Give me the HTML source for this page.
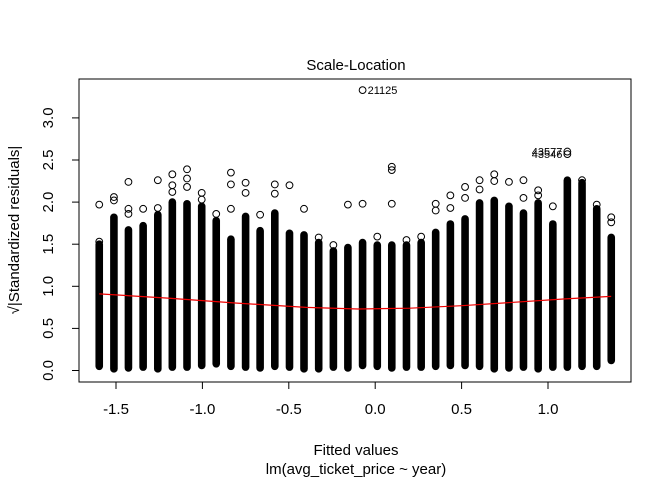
<!DOCTYPE html>
<html><head><meta charset="utf-8"><style>
html,body{margin:0;padding:0;background:#fff;}
svg{display:block;font-family:"Liberation Sans",Arial,sans-serif;}
</style></head><body>
<svg id="chart" width="672" height="480" viewBox="0 0 672 480" xmlns="http://www.w3.org/2000/svg">
<rect x="0" y="0" width="672" height="480" fill="#fff"/>
<g id="marks"></g>
<rect x="79" y="79" width="552" height="303" fill="none" stroke="#000" stroke-width="1"/>
<g id="axes"></g>
<text x="356" y="70" font-size="15" text-anchor="middle">Scale-Location</text>
<text x="356" y="455" font-size="15" text-anchor="middle">Fitted values</text>
<text x="356" y="474" font-size="15" text-anchor="middle">lm(avg_ticket_price ~ year)</text>
<text transform="translate(19,230) rotate(-90)" font-size="15" text-anchor="middle">√|Standardized residuals|</text>
</svg>
<script>
var columnFitted = [-1.597,-1.512,-1.428,-1.343,-1.258,-1.174,-1.089,-1.004,-0.920,-0.835,-0.750,-0.666,-0.581,-0.496,-0.412,-0.327,-0.242,-0.158,-0.073,0.012,0.096,0.181,0.266,0.350,0.435,0.520,0.604,0.689,0.774,0.858,0.943,1.028,1.112,1.197,1.282,1.366];
var denseTop = [1.50,1.82,1.67,1.72,1.85,2.00,1.98,1.95,1.78,1.56,1.83,1.66,1.87,1.63,1.61,1.52,1.42,1.46,1.52,1.49,1.49,1.49,1.52,1.64,1.74,1.80,1.99,2.02,1.95,1.87,1.99,1.74,2.26,2.23,1.92,1.58];
var denseBottom = [0.05,0.02,0.03,0.04,0.02,0.04,0.04,0.06,0.08,0.05,0.04,0.03,0.05,0.04,0.02,0.02,0.04,0.03,0.06,0.05,0.03,0.04,0.04,0.05,0.06,0.06,0.05,0.02,0.03,0.04,0.02,0.04,0.04,0.05,0.05,0.12];
var outlierIdx = [0,0,1,1,2,2,2,3,4,4,5,5,5,6,6,6,7,7,8,9,9,9,10,10,11,12,12,13,14,15,16,17,18,18,19,20,20,20,21,22,23,23,24,24,25,25,26,26,27,27,28,29,29,30,30,31,32,32,33,34,35,35];
var outlierVal = [1.97,1.53,2.06,2.02,2.24,1.92,1.86,1.92,2.26,1.93,2.33,2.20,2.12,2.39,2.28,2.18,2.11,2.03,1.86,2.35,2.21,1.92,2.23,2.11,1.85,2.21,2.10,2.20,1.92,1.58,1.49,1.97,1.98,3.33,1.59,2.42,2.38,1.98,1.55,1.59,1.98,1.90,2.08,1.93,2.18,2.05,2.26,2.15,2.33,2.25,2.24,2.26,2.05,2.14,2.08,1.95,2.60,2.57,2.26,1.97,1.82,1.76];
var smoothX = [-1.597,-1.2,-0.8,-0.4,-0.1,0.2,0.5,0.8,1.1,1.366];
var smoothY = [0.91,0.86,0.80,0.75,0.73,0.74,0.77,0.81,0.85,0.88];
var xTicks = [-1.5,-1.0,-0.5,0.0,0.5,1.0];
var xTickLabels = ["-1.5","-1.0","-0.5","0.0","0.5","1.0"];
var yTicks = [0,0.5,1,1.5,2,2.5,3];
var yTickLabels = ["0.0","0.5","1.0","1.5","2.0","2.5","3.0"];
var pointLabels = ["21125","43577","43546"];
var pointLabelX = [-0.073,1.112,1.112];
var pointLabelY = [3.33,2.60,2.57];

var NS="http://www.w3.org/2000/svg";
function sx(v){return 375.2+v*172.8;}
function sy(v){return 370.5-v*84.2;}
function mk(tag,attrs,parent){var e=document.createElementNS(NS,tag);for(var k in attrs)e.setAttribute(k,attrs[k]);parent.appendChild(e);return e;}
var marks=document.getElementById('marks'), axes=document.getElementById('axes');
for(var i=0;i<columnFitted.length;i++){
  var x=sx(columnFitted[i]), t=sy(denseTop[i]), b=sy(denseBottom[i]);
  var r=mk('rect',{x:x-3.8,y:t-3.8,width:7.6,height:b-t+7.6,rx:3.8,fill:'#000'},marks);
  
  
}
for(var j=0;j<outlierIdx.length;j++){
  var c=mk('circle',{cx:sx(columnFitted[outlierIdx[j]]),cy:sy(outlierVal[j]),r:3.4,fill:'none',stroke:'#000','stroke-width':1},marks);
  
  
}
var d='';
for(var k=0;k<smoothX.length;k++){d+=(k?'L':'M')+sx(smoothX[k]).toFixed(1)+' '+sy(smoothY[k]).toFixed(1);}
var sm=mk('path',{d:d,fill:'none',stroke:'#e00','stroke-width':1.2},marks);


for(var p=0;p<pointLabels.length;p++){
  var right=p===0;
  var tx=mk('text',{x:sx(pointLabelX[p])+(right?5:-5),y:sy(pointLabelY[p])+4,'font-size':11,'text-anchor':right?'start':'end'},marks);
  tx.textContent=pointLabels[p];
  
  
}
var xl=mk('line',{x1:sx(xTicks[0]),x2:sx(xTicks[xTicks.length-1]),y1:382,y2:382,stroke:'#000'},axes);


for(var a=0;a<xTicks.length;a++){
  var X=sx(xTicks[a]);
  mk('line',{x1:X,x2:X,y1:382,y2:389,stroke:'#000'},axes);
  var lt=mk('text',{x:X,y:414,'font-size':15,'text-anchor':'middle'},axes);
  lt.textContent=xTickLabels[a];
  
  
}
var yl=mk('line',{x1:79,x2:79,y1:sy(yTicks[0]),y2:sy(yTicks[yTicks.length-1]),stroke:'#000'},axes);


for(var b2=0;b2<yTicks.length;b2++){
  var Y=sy(yTicks[b2]);
  mk('line',{x1:72,x2:79,y1:Y,y2:Y,stroke:'#000'},axes);
  var yt=mk('text',{transform:'translate(53,'+Y+') rotate(-90)','font-size':15,'text-anchor':'middle'},axes);
  yt.textContent=yTickLabels[b2];
  
  
}
</script>
</body></html>
